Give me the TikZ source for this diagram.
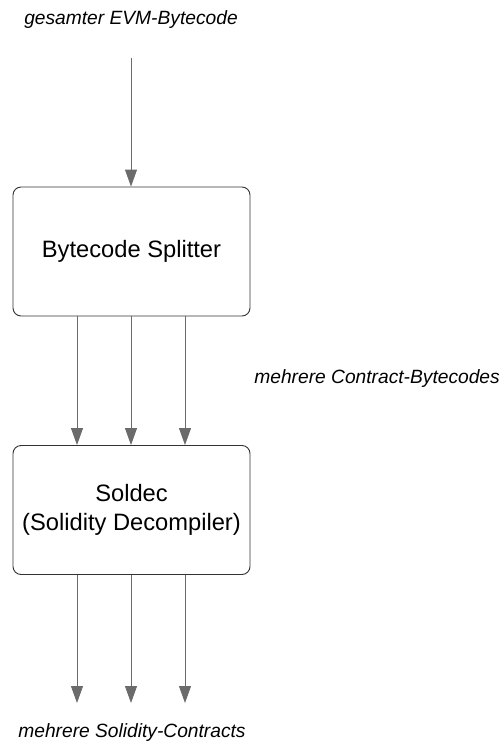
\documentclass[tikz,border=0pt]{standalone}
\usepackage{fontspec}
\setmainfont{Liberation Sans}
\usetikzlibrary{arrows.meta}
\definecolor{arrowgray}{HTML}{6B6B6B}
\definecolor{boxline}{HTML}{333333}
\tikzset{
  procbox/.style={draw=boxline, line width=0.9pt, rounded corners=8pt,
    minimum width=237pt, minimum height=129pt, inner sep=0pt,
    align=center, font=\fontsize{23.7}{28.5}\selectfont},
  flow/.style={draw=arrowgray, line width=0.9pt,
    -{Triangle[length=17pt,width=12pt]}, arrowgray},
  datalabel/.style={font=\fontsize{19.2}{23}\selectfont\itshape, inner sep=0pt}
}
\begin{document}
\begin{tikzpicture}[x=1pt,y=-1pt]
  \useasboundingbox (0,0) rectangle (502,742);

  % labels for the data passed between the stages
  \node[datalabel] (input) at (131,20) {gesamter EVM-Bytecode};
  \node[datalabel, anchor=east] (parts) at (500,379) {mehrere Contract-Bytecodes};
  \node[datalabel] (output) at (132,733) {mehrere Solidity-Contracts};

  % processing stages
  \node[procbox] (splitter) at (131.5,251.5) {Bytecode Splitter};
  \node[procbox] (soldec) at (131.5,510) {Soldec\\(Solidity Decompiler)};

  % input into the splitter
  \coordinate (inStart) at (131,58);
  \draw[flow] (inStart) -- (inStart |- splitter.north);

  % splitter to decompiler, three contracts
  \foreach \xx in {77,131,185} {
    \draw[flow] (\xx,0 |- splitter.south) -- (\xx,0 |- soldec.north);
  }

  % decompiled contracts leaving the decompiler
  \foreach \xx in {77,131,185} {
    \coordinate (out\xx) at (\xx,703);
    \draw[flow] (\xx,0 |- soldec.south) -- (out\xx);
  }
\end{tikzpicture}
\end{document}
